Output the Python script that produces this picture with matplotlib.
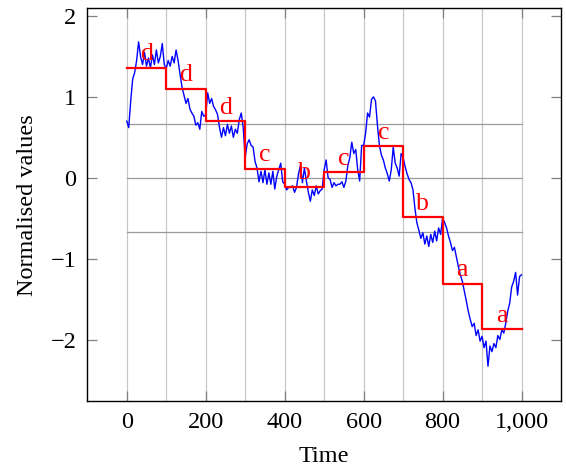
import matplotlib
matplotlib.use("Agg")
import matplotlib.pyplot as plt
import numpy as np

# ---- data ----
time = list(range(0, 1001, 5))
values = [
    # 0-95
    0.70, 0.62, 0.95, 1.22, 1.30, 1.45, 1.68, 1.50, 1.40, 1.55,
    1.38, 1.48, 1.36, 1.52, 1.40, 1.58, 1.42, 1.50, 1.66, 1.40,
    # 100-195
    1.35, 1.45, 1.38, 1.50, 1.42, 1.58, 1.45, 1.28, 1.12, 1.02,
    0.92, 0.98, 0.85, 0.80, 0.76, 0.65, 0.68, 0.60, 0.82, 0.76,
    # 200-295
    0.78, 1.05, 0.92, 0.98, 0.88, 0.84, 0.78, 0.62, 0.50, 0.62,
    0.52, 0.66, 0.55, 0.64, 0.50, 0.60, 0.55, 0.72, 0.80, 0.62,
    # 300-395
    0.25, 0.42, 0.47, 0.40, 0.38, 0.20, 0.12, -0.05, 0.08, -0.06,
    0.10, -0.08, 0.06, -0.08, 0.08, -0.14, 0.02, 0.10, 0.18, -0.05,
    # 400-495
    -0.08, -0.15, -0.12, -0.12, -0.10, -0.18, -0.12, 0.05, 0.15, -0.06,
    0.12, -0.04, -0.18, -0.29, -0.15, -0.22, -0.10, -0.20, -0.16, -0.14,
    # 500-595
    0.10, 0.22, 0.00, -0.02, -0.12, -0.06, -0.10, -0.08, -0.08, -0.05,
    -0.12, -0.04, 0.15, 0.25, 0.44, 0.30, 0.35, 0.10, -0.04, 0.40,
    # 600-695
    0.40, 0.55, 0.80, 0.75, 0.97, 1.00, 0.95, 0.65, 0.40, 0.28,
    0.22, 0.12, 0.05, -0.04, 0.10, 0.38, 0.18, 0.12, 0.02, 0.30,
    # 700-795
    0.25, 0.14, 0.05, -0.02, -0.06, -0.15, -0.38, -0.56, -0.65, -0.75,
    -0.68, -0.82, -0.72, -0.85, -0.70, -0.80, -0.66, -0.78, -0.62, -0.70,
    # 800-895
    -0.50, -0.55, -0.62, -0.72, -0.80, -0.90, -0.86, -0.98, -1.10, -1.20,
    -1.28, -1.40, -1.52, -1.65, -1.75, -1.84, -1.80, -1.95, -1.88, -2.02,
    # 900-1000
    -1.96, -2.10, -2.02, -2.33, -2.08, -2.15, -2.05, -2.10, -1.95, -2.00,
    -1.88, -1.92, -1.80, -1.65, -1.55, -1.35, -1.28, -1.17, -1.45, -1.22,
    -1.20,
]

segment_edges = [0, 100, 200, 300, 400, 500, 600, 700, 800, 900, 1000]
paa_values = [1.36, 1.10, 0.70, 0.11, -0.11, 0.07, 0.39, -0.49, -1.31, -1.87]
symbols = ["d", "d", "d", "c", "b", "c", "c", "b", "a", "a"]
breakpoints = [-0.67, 0.0, 0.67]

xticks = [0, 200, 400, 600, 800, 1000]
xtick_labels = ["0", "200", "400", "600", "800", "1,000"]
yticks = [-2, -1, 0, 1, 2]

# ---- figure ----
plt.rcParams['font.family'] = ['Liberation Serif', 'DejaVu Serif']
fig = plt.figure(figsize=(5.66, 4.70), dpi=100)
ax = fig.add_axes([0.1542, 0.1468, 0.9912 - 0.1542, 0.9823 - 0.1468])

ax.set_xlim(-100, 1100)
ax.set_ylim(-2.76, 2.095)

# vertical grid lines every 100
for gx in segment_edges:
    ax.axvline(gx, color='#c8c8c8', lw=0.9, zorder=0)

# breakpoint lines
for b in breakpoints:
    ax.plot([segment_edges[0], segment_edges[-1]], [b, b], color='#9a9a9a', lw=0.9, zorder=1)

# time series
ax.plot(time, values, color='#0000ff', lw=1.0, zorder=2)

# PAA steps
step_x = []
step_y = []
for i, v in enumerate(paa_values):
    step_x += [segment_edges[i], segment_edges[i + 1]]
    step_y += [v, v]
ax.plot(step_x, step_y, color='#ff0000', lw=1.6, zorder=3)

# symbols
for i, (v, s) in enumerate(zip(paa_values, symbols)):
    cx = (segment_edges[i] + segment_edges[i + 1]) / 2
    ax.text(cx, v + 0.03, s, color='#ff0000', fontsize=18.5, ha='center', va='bottom', zorder=4)

ax.set_xticks(xticks)
ax.set_xticklabels(xtick_labels)
ax.set_yticks(yticks)
ax.set_yticklabels([("\u2212%d" % abs(t)) if t < 0 else "%d" % t for t in yticks])

ax.tick_params(direction='in', length=7.2, width=0.9, color='#808080',
               top=True, right=True, labelsize=17.5, pad=8)
ax.tick_params(axis='x', pad=8)
for sp in ax.spines.values():
    sp.set_linewidth(1.0)
    sp.set_color('black')

ax.set_xlabel("Time", fontsize=17.5, labelpad=9)
ax.set_ylabel("Normalised values", fontsize=17.5, labelpad=9)

fig.savefig("out.png", dpi=100)
